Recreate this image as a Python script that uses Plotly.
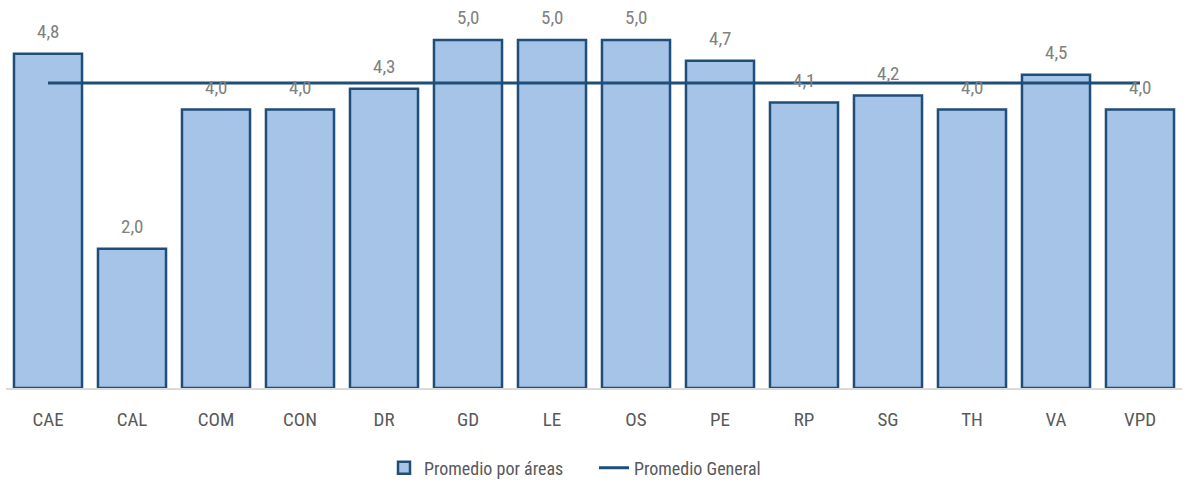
import plotly.graph_objects as go

categories = ["CAE", "CAL", "COM", "CON", "DR", "GD", "LE", "OS", "PE", "RP", "SG", "TH", "VA", "VPD"]
area_values = [4.8, 2.0, 4.0, 4.0, 4.3, 5.0, 5.0, 5.0, 4.7, 4.1, 4.2, 4.0, 4.5, 4.0]
general_value = 4.38
general_values = [general_value] * len(categories)

FONT = "Liberation Sans Narrow, Roboto Condensed, Arial Narrow, sans-serif"
DARK = "#1F4E79"

fig = go.Figure()
fig.add_trace(go.Bar(
    x=categories, y=area_values, name="Promedio por áreas",
    marker=dict(color="#A6C3E8", line=dict(color=DARK, width=2.5)),
    cliponaxis=False,
))
fig.add_trace(go.Scatter(
    x=categories, y=general_values, name="Promedio General",
    mode="lines", line=dict(color=DARK, width=3),
))

for c, v in zip(categories, area_values):
    fig.add_annotation(
        x=c, y=v, xref="x", yref="y", text=f"{v:.1f}".replace(".", ","),
        showarrow=False, yanchor="bottom", yshift=9,
        font=dict(color="#808080", size=19, family=FONT),
    )

fig.update_layout(
    width=1194, height=484,
    margin=dict(l=6, r=12, t=26, b=96),
    paper_bgcolor="white", plot_bgcolor="white",
    separators=",.",
    bargap=0.19,
    font=dict(family=FONT, color="#595959", size=16),
    showlegend=True,
    legend=dict(orientation="h", x=0.5, xanchor="center", y=0.033, yanchor="middle",
                yref="container", itemwidth=30, entrywidth=165, entrywidthmode="pixels",
                font=dict(size=18, color="#595959", family=FONT)),
    xaxis=dict(showgrid=False, showline=True, linecolor="#D9D9D9", linewidth=2,
               ticks="outside", ticklen=13, tickcolor="rgba(0,0,0,0)", automargin=False,
               tickfont=dict(size=19, color="#595959", family=FONT)),
    yaxis=dict(range=[0, 5.2], showgrid=False, showticklabels=False, zeroline=False,
               showline=False, automargin=False),
)

fig.write_html("out.html", config={"displayModeBar": False},
               post_script="document.body.style.margin='0';")
